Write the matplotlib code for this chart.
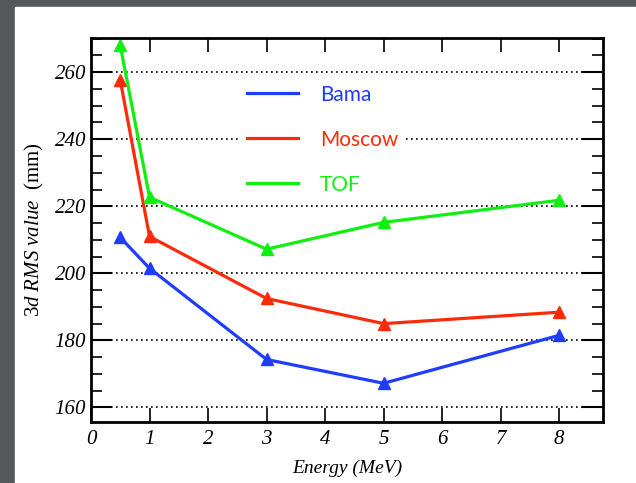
import matplotlib
matplotlib.use("Agg")
import matplotlib.pyplot as plt
from matplotlib.patches import Rectangle
from matplotlib.ticker import MultipleLocator

energy = [0.5, 1, 3, 5, 8]
bama = [210.7, 201.5, 174.3, 167.2, 181.5]
moscow = [257.6, 211.0, 192.5, 185.0, 188.4]
tof = [268.0, 222.7, 207.2, 215.2, 221.8]

x_ticks = [0, 1, 2, 3, 4, 5, 6, 7, 8]
y_ticks = [160, 180, 200, 220, 240, 260]

plt.rcParams['font.family'] = 'Liberation Serif'
plt.rcParams['mathtext.fontset'] = 'custom'
plt.rcParams['mathtext.rm'] = 'Liberation Serif'
plt.rcParams['mathtext.it'] = 'Liberation Serif:italic'

fig = plt.figure(figsize=(6.36, 4.83), dpi=100, facecolor='#55575b')
# white slide panel behind the axes
panel = Rectangle((15 / 636, 0), 1, (483 - 7) / 483,
                  transform=fig.transFigure, color='white', zorder=-10)
fig.add_artist(panel)

ax = fig.add_axes([91 / 636, (483 - 421.5) / 483, 512 / 636, 383.5 / 483])
ax.set_facecolor('white')

ax.plot(energy, bama, color='#1f3dff', lw=2.3, marker='^', ms=9, label='Bama')
ax.plot(energy, moscow, color='#ff2a0a', lw=2.3, marker='^', ms=9, label='Moscow')
ax.plot(energy, tof, color='#10f010', lw=2.3, marker='^', ms=9, label='TOF')

ax.set_xlim(0, 8.75)
ax.set_ylim(155.8, 270.2)
ax.set_xticks(x_ticks, labels=[str(v) for v in x_ticks], fontstyle='italic')
ax.set_yticks(y_ticks, labels=[str(v) for v in y_ticks], fontstyle='italic')
ax.yaxis.set_minor_locator(MultipleLocator(5))
ax.tick_params(axis='x', direction='in', top=True, length=10, width=1.2, labelsize=15, pad=6)
ax.tick_params(axis='y', which='major', direction='in', right=True, length=15, width=1.5, labelsize=15)
ax.tick_params(axis='y', which='minor', direction='in', right=True, length=8, width=1.2)
for sp in ax.spines.values():
    sp.set_linewidth(2)

ax.yaxis.grid(True, which='major', linestyle=(0, (1, 2)), color='black', lw=1.2)

ax.set_xlabel('Energy (MeV)', fontsize=14, fontstyle='italic', labelpad=8)
ax.set_ylabel(r'$\mathit{3d\ RMS\ value}$  (mm)', fontsize=15, labelpad=6)

leg = ax.legend(loc='upper left', bbox_to_anchor=(0.272, 0.922), frameon=True,
                facecolor='white', edgecolor='none', framealpha=1, fancybox=False,
                borderpad=0.3,
                handlelength=2.45, handletextpad=1.05, labelspacing=1.2,
                prop={'family': 'Lato', 'size': 15})
for h in leg.legend_handles:
    h.set_marker('')
for txt, c in zip(leg.get_texts(), ['#1f3dff', '#ff2a0a', '#10f010']):
    txt.set_color(c)

fig.savefig('out.png', dpi=100, facecolor=fig.get_facecolor())
